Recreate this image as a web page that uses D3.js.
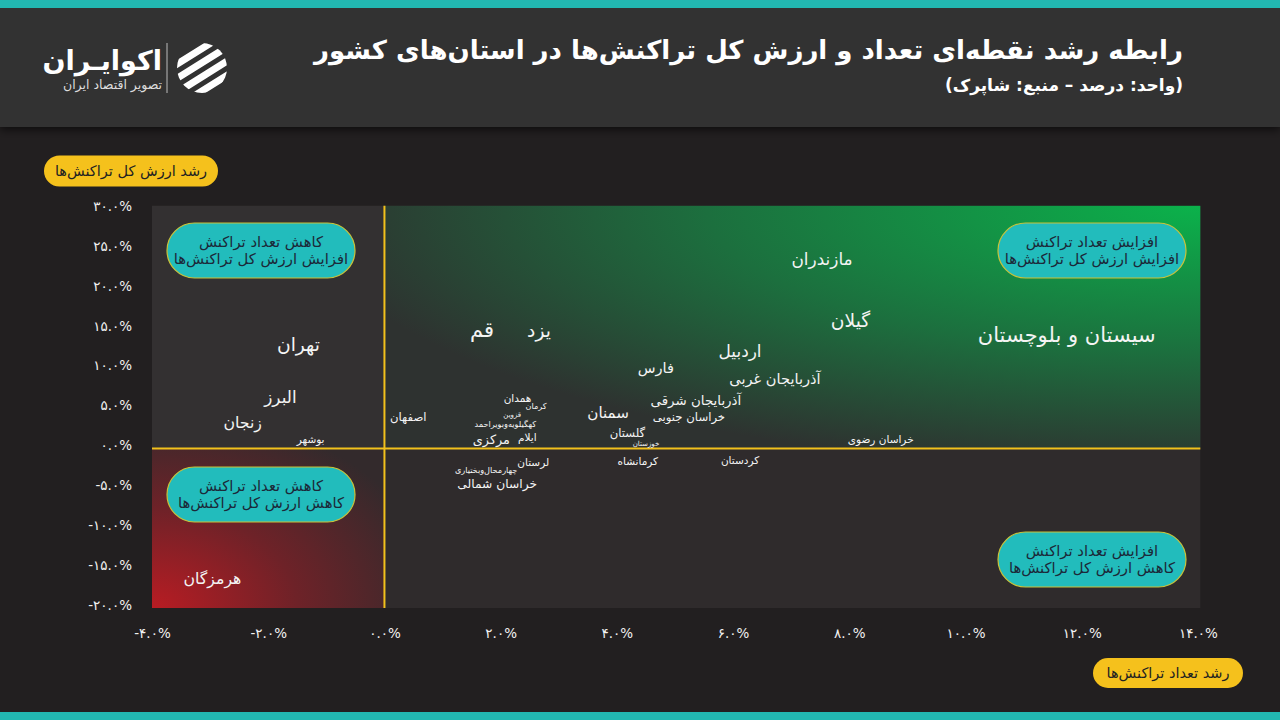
<!DOCTYPE html>
<html>
<head>
<meta charset="utf-8">
<script src="https://cdn.jsdelivr.net/npm/d3@7"></script>
<style>
  html, body { margin: 0; padding: 0; background: #221f20; }
  svg { display: block; font-family: "DejaVu Sans", sans-serif; }
</style>
</head>
<body>
<div id="chart"></div>
<script>
// استان‌ها: رشد تعداد تراکنش (x) و رشد ارزش کل تراکنش (y)، درصد
const provinces = [
  'مازندران', 'گیلان', 'سیستان و بلوچستان', 'اردبیل', 'آذربایجان غربی', 'آذربایجان شرقی',
  'خراسان جنوبی', 'فارس', 'سمنان', 'گلستان', 'خوزستان', 'کرمانشاه', 'کردستان', 'خراسان رضوی',
  'یزد', 'قم', 'تهران', 'البرز', 'زنجان', 'بوشهر', 'اصفهان', 'همدان', 'کرمان', 'قزوین',
  'کهگیلویه‌وبویراحمد', 'ایلام', 'مرکزی', 'لرستان', 'چهارمحال‌وبختیاری', 'خراسان شمالی', 'هرمزگان'
]
const countGrowth = [
  7.53, 8.02, 11.74, 6.12, 6.72, 5.36,
  5.24, 4.67, 3.85, 4.18, 4.5, 4.36, 6.12, 8.54,
  2.66, 1.68, -1.48, -1.79, -2.44, -1.27, 0.41, 2.29, 2.61, 2.2,
  2.08, 2.46, 1.84, 2.56, 1.75, 1.94, -2.96
]
const valueGrowth = [
  23.75, 16.0, 14.25, 12.25, 8.75, 6.0,
  3.9, 10.1, 4.5, 1.9, 0.6, -1.6, -1.5, 1.1,
  14.75, 14.9, 13.0, 6.4, 3.25, 1.1, 3.9, 6.25, 5.25, 4.25,
  3.1, 1.4, 1.1, -1.75, -2.75, -4.4, -16.25
]
// وزن نمایشی هر برچسب (0 تا 12)
const prominence = [
  8.5, 10, 12, 8.5, 6.5, 5.5,
  4, 6.5, 7, 4, 0, 3, 3, 3,
  10, 12, 10, 8.5, 7.5, 3, 4, 3, 1, 0,
  1, 3, 5, 3, 1, 4.5, 7.5
]
const xTicks = [-4, -2, 0, 2, 4, 6, 8, 10, 12, 14]
const yTicks = [30, 25, 20, 15, 10, 5, 0, -5, -10, -15, -20]

const width = 1280, height = 720
const faDigits = '۰۱۲۳۴۵۶۷۸۹'
const fa = s => String(s).replace(/\d/g, d => faDigits[d]).replace('−', '-')
const pct = v => fa(d3.format('.1f')(v)) + '%'

const svg = d3.select('#chart').append('svg').attr('width', width).attr('height', height)
const defs = svg.append('defs')

const sh = defs.append('filter').attr('id', 'shadow').attr('x', '-5%').attr('y', '-20%').attr('width', '110%').attr('height', '160%')
sh.append('feDropShadow').attr('dx', 0).attr('dy', 3).attr('stdDeviation', 4).attr('flood-color', '#000').attr('flood-opacity', 0.6)

const green = defs.append('radialGradient').attr('id', 'green')
  .attr('cx', '100%').attr('cy', '0%').attr('r', '110%')
green.append('stop').attr('offset', '0%').attr('stop-color', '#0bb24b')
green.append('stop').attr('offset', '55%').attr('stop-color', '#1c6f3e')
green.append('stop').attr('offset', '100%').attr('stop-color', '#2e3230')

const red = defs.append('radialGradient').attr('id', 'red')
  .attr('cx', '0%').attr('cy', '100%').attr('r', '125%')
red.append('stop').attr('offset', '0%').attr('stop-color', '#b81c23')
red.append('stop').attr('offset', '50%').attr('stop-color', '#6e2228')
red.append('stop').attr('offset', '100%').attr('stop-color', '#332a2c')

// background + bands
svg.append('rect').attr('width', width).attr('height', height).attr('fill', '#221f20')
svg.append('rect').attr('x', 0).attr('y', 0).attr('width', width).attr('height', 127)
  .attr('fill', '#333031').attr('filter', 'url(#shadow)')
svg.append('rect').attr('width', width).attr('height', 8).attr('fill', '#22b8b1')
svg.append('rect').attr('y', 712).attr('width', width).attr('height', 8).attr('fill', '#22b8b1')

// title
svg.append('text').attr('x', 1183).attr('y', 59).attr('direction', 'rtl').attr('text-anchor', 'start')
  .attr('fill', '#fff').attr('font-size', 26).attr('font-weight', 'bold')
  .text('رابطه رشد نقطه‌ای تعداد و ارزش کل تراکنش‌ها در استان‌های کشور')
svg.append('text').attr('x', 1183).attr('y', 91).attr('direction', 'rtl').attr('text-anchor', 'start')
  .attr('fill', '#fff').attr('font-size', 17).attr('font-weight', 'bold')
  .text('(واحد: درصد – منبع: شاپرک)')

// logo
const logo = svg.append('g')
logo.append('text').attr('x', 162).attr('y', 70).attr('direction', 'rtl').attr('text-anchor', 'start')
  .attr('fill', '#fff').attr('font-size', 27).attr('font-weight', 'bold').text('اکوایـران')
logo.append('text').attr('x', 162).attr('y', 89).attr('direction', 'rtl').attr('text-anchor', 'start')
  .attr('fill', '#ddd').attr('font-size', 12.5).attr('letter-spacing', 1.6).text('تصویر اقتصاد ایران')
logo.append('line').attr('x1', 167).attr('x2', 167).attr('y1', 43).attr('y2', 93)
  .attr('stroke', '#bbb').attr('stroke-width', 1)
defs.append('clipPath').attr('id', 'logoClip').append('circle').attr('cx', 202).attr('cy', 68).attr('r', 25)
const icon = logo.append('g').attr('clip-path', 'url(#logoClip)')
;[-16, -4, 8, 20].forEach(o => {
  icon.append('rect').attr('x', 170).attr('y', 68 + o - 4).attr('width', 70).attr('height', 7).attr('rx', 3.5)
    .attr('fill', '#fff').attr('transform', `rotate(-32, 202, 68)`)
})

// scales
const x = d3.scaleLinear().domain([-4, 14]).range([152, 1198])
const y = d3.scaleLinear().domain([-20, 30]).range([608, 209])
const fontSize = d3.scaleLinear().domain([0, 12]).range([7, 21])

const x0 = x(-4), x1 = x(14.04), yTop = y(30.4), yBot = y(-20)

// quadrants
svg.append('rect').attr('x', x0).attr('y', yTop).attr('width', x1 - x0).attr('height', yBot - yTop).attr('fill', '#2f2b2c')
svg.append('rect').attr('x', x0).attr('y', yTop).attr('width', x(0) - x0).attr('height', y(0) - yTop).attr('fill', '#333031')
svg.append('rect').attr('x', x(0)).attr('y', yTop).attr('width', x1 - x(0)).attr('height', y(0) - yTop).attr('fill', 'url(#green)')
svg.append('rect').attr('x', x0).attr('y', y(0)).attr('width', x(0) - x0).attr('height', yBot - y(0)).attr('fill', 'url(#red)')

// zero lines
svg.append('line').attr('x1', x0).attr('x2', x1).attr('y1', y(0)).attr('y2', y(0)).attr('stroke', '#f2c11c').attr('stroke-width', 2)
svg.append('line').attr('x1', x(0)).attr('x2', x(0)).attr('y1', yTop).attr('y2', yBot).attr('stroke', '#f2c11c').attr('stroke-width', 2)

// quadrant notes
const notes = [
  { cx: 261, cy: 250, lines: ['کاهش تعداد تراکنش', 'افزایش ارزش کل تراکنش‌ها'] },
  { cx: 1092, cy: 250, lines: ['افزایش تعداد تراکنش', 'افزایش ارزش کل تراکنش‌ها'] },
  { cx: 261, cy: 494, lines: ['کاهش تعداد تراکنش', 'کاهش ارزش کل تراکنش‌ها'] },
  { cx: 1092, cy: 559, lines: ['افزایش تعداد تراکنش', 'کاهش ارزش کل تراکنش‌ها'] }
]
notes.forEach(n => {
  const g = svg.append('g')
  g.append('rect').attr('x', n.cx - 94).attr('y', n.cy - 27).attr('width', 188).attr('height', 55).attr('rx', 27.5)
    .attr('fill', '#22bcbc').attr('stroke', '#c9c23a').attr('stroke-width', 1.2)
  n.lines.forEach((t, i) => {
    g.append('text').attr('x', n.cx).attr('y', n.cy - 3 + i * 17).attr('text-anchor', 'middle').attr('direction', 'rtl')
      .attr('fill', '#1c2838').attr('font-size', 14.8).text(t)
  })
})

// axes
const yAxis = svg.append('g').attr('transform', 'translate(132,-3)')
  .call(d3.axisLeft(y).tickValues(yTicks).tickSize(0).tickPadding(0).tickFormat(pct))
const xAxis = svg.append('g').attr('transform', 'translate(0,628)')
  .call(d3.axisBottom(x).tickValues(xTicks).tickSize(0).tickPadding(0).tickFormat(pct))
;[yAxis, xAxis].forEach(a => {
  a.select('.domain').remove()
  a.selectAll('text').attr('fill', '#f2f2f2').attr('font-size', 13.5).attr('font-family', '"DejaVu Sans", sans-serif')
})

// axis titles
const pill = (cx, cy, w, h, label) => {
  svg.append('rect').attr('x', cx - w / 2).attr('y', cy - h / 2).attr('width', w).attr('height', h).attr('rx', h / 2)
    .attr('fill', '#f5c11c')
  svg.append('text').attr('x', cx).attr('y', cy).attr('dy', '0.35em').attr('text-anchor', 'middle').attr('direction', 'rtl')
    .attr('fill', '#222').attr('font-size', 14.5).text(label)
}
pill(131, 171, 174, 31, 'رشد ارزش کل تراکنش‌ها')
pill(1168, 673, 150, 30, 'رشد تعداد تراکنش‌ها')

// province labels
const points = provinces.map((name, i) => ({ name, cx: countGrowth[i], cy: valueGrowth[i], p: prominence[i] }))
svg.append('g').selectAll('text').data(points).join('text')
  .attr('x', d => x(d.cx)).attr('y', d => y(d.cy))
  .attr('dy', '0.35em').attr('text-anchor', 'middle').attr('direction', 'rtl')
  .attr('fill', '#f4f4f4').attr('font-size', d => fontSize(d.p))
  .text(d => d.name)
</script>
</body>
</html>
